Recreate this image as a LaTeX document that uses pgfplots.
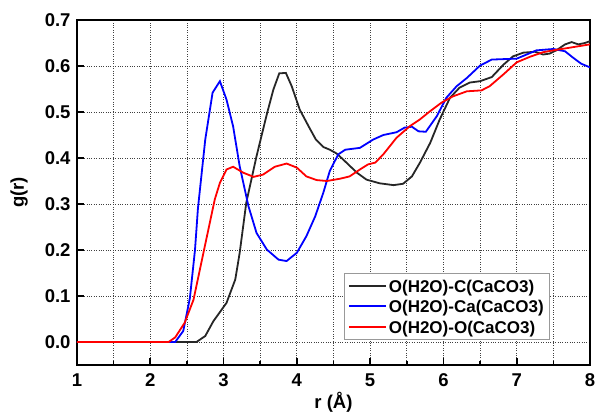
\documentclass[border=0pt]{standalone}
\usepackage{pgfplots}
\pgfplotsset{compat=1.18}
\usepackage{fontspec}
\setmainfont{Liberation Sans}
\newcommand\tickfont{\fontsize{18.5bp}{20bp}\selectfont\bfseries}
\newcommand\legfont{\fontsize{17bp}{19bp}\selectfont\bfseries}
\newcommand\ls{\rule[-5.5bp]{0pt}{20.5bp}}
\begin{document}
\begin{tikzpicture}
\begin{axis}[
  at={(0,0)}, anchor=south west,
  scale only axis, width=513bp, height=345bp,
  xmin=1, xmax=8, ymin=-0.05, ymax=0.7,
  xtick={1,2,3,4,5,6,7,8},
  minor x tick num=1,
  ytick={0,0.1,0.2,0.3,0.4,0.5,0.6,0.7},
  yticklabel style={/pgf/number format/fixed,/pgf/number format/precision=1,/pgf/number format/fixed zerofill, xshift=-3bp},
  xticklabel style={yshift=-5bp},
  /pgf/number format/assume math mode=true,
  tick label style={font=\tickfont},
  tick align=inside,
  xtick pos=bottom, ytick pos=left,
  major tick length=7bp, minor tick length=4bp,
  every tick/.style={black, line width=1.6bp},
  axis line style={line width=2.6bp},
  grid=major, xminorgrids=true,
  major grid style={dotted, line width=0.8bp, black!75},
  minor grid style={dotted, line width=0.8bp, black!75},
  xlabel={r (Å)}, ylabel={g(r)},
  xlabel style={font=\tickfont, at={(axis description cs:0.5,-0.107)}, anchor=center},
  ylabel style={font=\tickfont, at={(axis description cs:-0.113,0.5)}, anchor=center},
  legend style={at={(rel axis cs:0.92,0.075)}, anchor=south east, draw=gray!80, fill=white, font=\legfont, legend cell align=left},
  legend image code/.code={\draw[#1, line width=2.2bp] (0bp,0bp) -- (37bp,0bp);},
]
\addplot[black!85, line width=1.8bp] coordinates {
(1.0,0) (2.63,0) (2.75,0.013) (2.86,0.045) (3.04,0.085) (3.16,0.136) (3.22,0.194)
(3.31,0.303) (3.45,0.404) (3.59,0.495) (3.68,0.549) (3.76,0.584) (3.85,0.585)
(3.93,0.556) (4.04,0.505) (4.16,0.469) (4.26,0.44) (4.36,0.424) (4.45,0.418)
(4.54,0.41) (4.63,0.397) (4.82,0.368) (4.95,0.353) (5.13,0.345) (5.32,0.341)
(5.45,0.344) (5.57,0.36) (5.68,0.39) (5.82,0.433) (5.95,0.484) (6.09,0.531)
(6.22,0.553) (6.36,0.564) (6.5,0.567) (6.66,0.576) (6.82,0.603) (6.95,0.621)
(7.09,0.629) (7.25,0.631) (7.36,0.625) (7.45,0.627) (7.54,0.634) (7.66,0.647)
(7.75,0.652) (7.84,0.647) (7.93,0.65) (8.0,0.654)};
\addlegendentry{\ls O(H2O)-C(CaCO3)}
\addplot[blue, line width=1.8bp] coordinates {
(1.0,0) (2.34,0) (2.45,0.024) (2.54,0.095) (2.61,0.2) (2.65,0.29) (2.75,0.44)
(2.85,0.542) (2.95,0.567) (3.04,0.527) (3.13,0.469) (3.22,0.382) (3.34,0.295)
(3.45,0.237) (3.59,0.201) (3.75,0.179) (3.86,0.176) (4.0,0.194) (4.13,0.23)
(4.25,0.273) (4.36,0.324) (4.45,0.372) (4.565,0.408) (4.66,0.418) (4.86,0.422)
(5.04,0.44) (5.18,0.45) (5.36,0.456) (5.47,0.466) (5.57,0.468) (5.66,0.458)
(5.76,0.457) (5.91,0.491) (6.04,0.531) (6.18,0.556) (6.32,0.574) (6.5,0.601)
(6.66,0.614) (7.0,0.616) (7.27,0.634) (7.5,0.637) (7.66,0.632) (7.77,0.618)
(7.88,0.605) (8.0,0.597)};
\addlegendentry{\ls O(H2O)-Ca(CaCO3)}
\addplot[red, line width=1.8bp] coordinates {
(1.0,0) (2.25,0) (2.34,0.01) (2.47,0.042) (2.59,0.092) (2.72,0.19) (2.88,0.31)
(2.95,0.346) (3.04,0.375) (3.13,0.381) (3.27,0.368) (3.41,0.359) (3.54,0.364)
(3.70,0.381) (3.86,0.388) (4.0,0.379) (4.13,0.36) (4.27,0.352) (4.41,0.35)
(4.59,0.355) (4.72,0.36) (4.86,0.375) (4.97,0.386) (5.07,0.39) (5.18,0.408)
(5.36,0.444) (5.54,0.469) (5.68,0.484) (5.82,0.502) (5.98,0.521) (6.13,0.534)
(6.32,0.545) (6.52,0.547) (6.63,0.556) (6.82,0.582) (7.0,0.608) (7.18,0.62)
(7.36,0.63) (7.5,0.634) (7.73,0.64) (8.0,0.647)};
\addlegendentry{\ls O(H2O)-O(CaCO3)}
\end{axis}
\pgfresetboundingbox
\path[use as bounding box] (-77bp,-47bp) rectangle (521bp,365bp);
\end{tikzpicture}
\end{document}
